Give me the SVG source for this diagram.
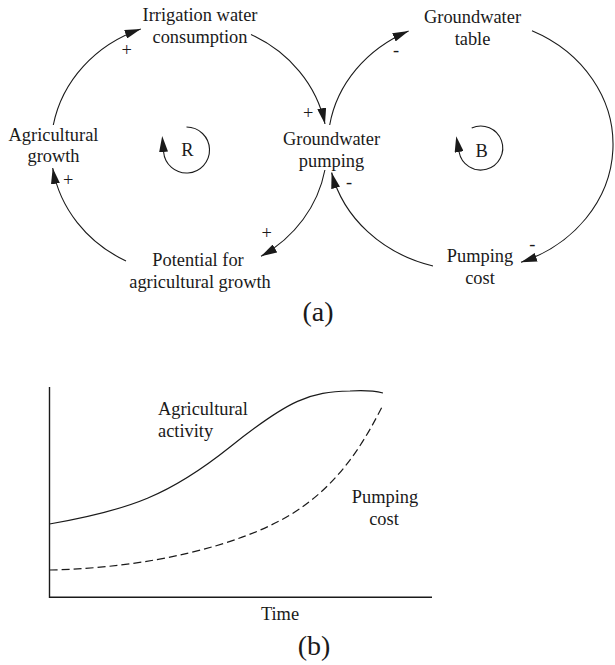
<svg xmlns="http://www.w3.org/2000/svg" width="615" height="665" viewBox="0 0 615 665">
  <style>
    text { font-family: 'Liberation Serif', 'DejaVu Serif', serif; fill: #1a1a1a; }
    .lbl { font-size: 18.4px; text-anchor: middle; }
    .sign { font-size: 18.4px; text-anchor: middle; }
    .cap { font-size: 28px; text-anchor: middle; }
    .link { fill: none; stroke: #1a1a1a; stroke-width: 1.1; marker-end: url(#head); }
    .loop { fill: none; stroke: #1a1a1a; stroke-width: 1.1; marker-end: url(#loopHead); }
    .axis { fill: none; stroke: #1a1a1a; stroke-width: 1.4; }
    .curve { fill: none; stroke: #1a1a1a; stroke-width: 1.2; }
    .dash { stroke-dasharray: 8 4; }
  </style>
  <defs>
    <!-- arrowhead whose tip sits on the path end -->
    <marker id="head" markerUnits="userSpaceOnUse" markerWidth="16" markerHeight="9" viewBox="0 0 16 9" refX="16" refY="4.5" orient="auto">
      <path d="M0,0 L16,4.5 L0,9 Z" fill="#1a1a1a"/>
    </marker>
    <!-- arrowhead that extends beyond the path end (loop symbols) -->
    <marker id="loopHead" markerUnits="userSpaceOnUse" markerWidth="16" markerHeight="9" viewBox="0 0 16 9" refX="0" refY="4.5" orient="auto">
      <path d="M0,0 L16,4.5 L0,9 Z" fill="#1a1a1a"/>
    </marker>
  </defs>

  <!-- (a) causal loop diagram -->
  <g id="connectors">
    <!-- reinforcing loop (left) -->
    <path class="link" d="M53.3,125 A138,127 0 0 1 140.8,29"/>
    <path class="link" d="M251,34.5 A138,127 0 0 1 325,124"/>
    <path class="link" d="M324.9,170 A138,127 0 0 1 261,256.3"/>
    <path class="link" d="M126,261 A138,127 0 0 1 52.7,168"/>
    <!-- balancing loop (right) -->
    <path class="link" d="M329.7,125 A142.5,126 0 0 1 408.6,31"/>
    <path class="link" d="M532,30.8 A142.5,126 0 0 1 521,262.3"/>
    <path class="link" d="M433,266 A142.5,126 0 0 1 331.6,172.5"/>
  </g>

  <g font-family="Liberation Serif, serif">
    <g id="signs">
      <text class="sign" x="126.7" y="55.5">+</text>
      <text class="sign" x="308.3" y="118.5">+</text>
      <text class="sign" x="266.7" y="239">+</text>
      <text class="sign" x="68.3" y="186">+</text>
      <text class="sign" x="396" y="56">-</text>
      <text class="sign" x="349" y="188">-</text>
      <text class="sign" x="532.3" y="250">-</text>
    </g>

    <g id="irrigation">
      <text class="lbl" x="200" y="21">Irrigation water</text>
      <text class="lbl" x="200" y="43">consumption</text>
    </g>
    <g id="agri-growth">
      <text class="lbl" x="53.5" y="140.5">Agricultural</text>
      <text class="lbl" x="53.5" y="162">growth</text>
    </g>
    <g id="potential">
      <text class="lbl" x="198" y="266">Potential for</text>
      <text class="lbl" x="200" y="288">agricultural growth</text>
    </g>
    <g id="pumping">
      <text class="lbl" x="331.5" y="145">Groundwater</text>
      <text class="lbl" x="331.5" y="166.5">pumping</text>
    </g>
    <g id="table">
      <text class="lbl" x="472.5" y="23">Groundwater</text>
      <text class="lbl" x="472.5" y="45">table</text>
    </g>
    <g id="cost">
      <text class="lbl" x="480" y="262">Pumping</text>
      <text class="lbl" x="480" y="284">cost</text>
    </g>

    <g id="loop-R">
      <path class="loop" d="M186.5,127 A23,23 0 1 1 163.6,152"/>
      <text class="lbl" x="187.5" y="155.5">R</text>
    </g>
    <g id="loop-B">
      <path class="loop" d="M471.7,128 A22,22 0 1 1 459.1,152"/>
      <text class="lbl" x="481.7" y="156.5">B</text>
    </g>

    <text class="cap" x="318" y="321">(a)</text>

    <!-- (b) behaviour over time -->
    <g id="chart">
      <path class="axis" d="M49.5,387 V597.3 H432"/>
      <path class="curve" d="M49.5,524 C130,510 170,495 230,447 S310,392 350,391 C365,390 375,391 383,393"/>
      <path class="curve dash" d="M49.5,570 C150,568 240,545 290,515 C340,485 365,440 382,407"/>
      <text style="font-size:18.4px" x="158" y="415">Agricultural</text>
      <text style="font-size:18.4px" x="158" y="436.5">activity</text>
      <text class="lbl" x="385" y="503">Pumping</text>
      <text class="lbl" x="384" y="525">cost</text>
      <text class="lbl" x="280" y="620">Time</text>
    </g>

    <text class="cap" x="314" y="655">(b)</text>
  </g>
</svg>
